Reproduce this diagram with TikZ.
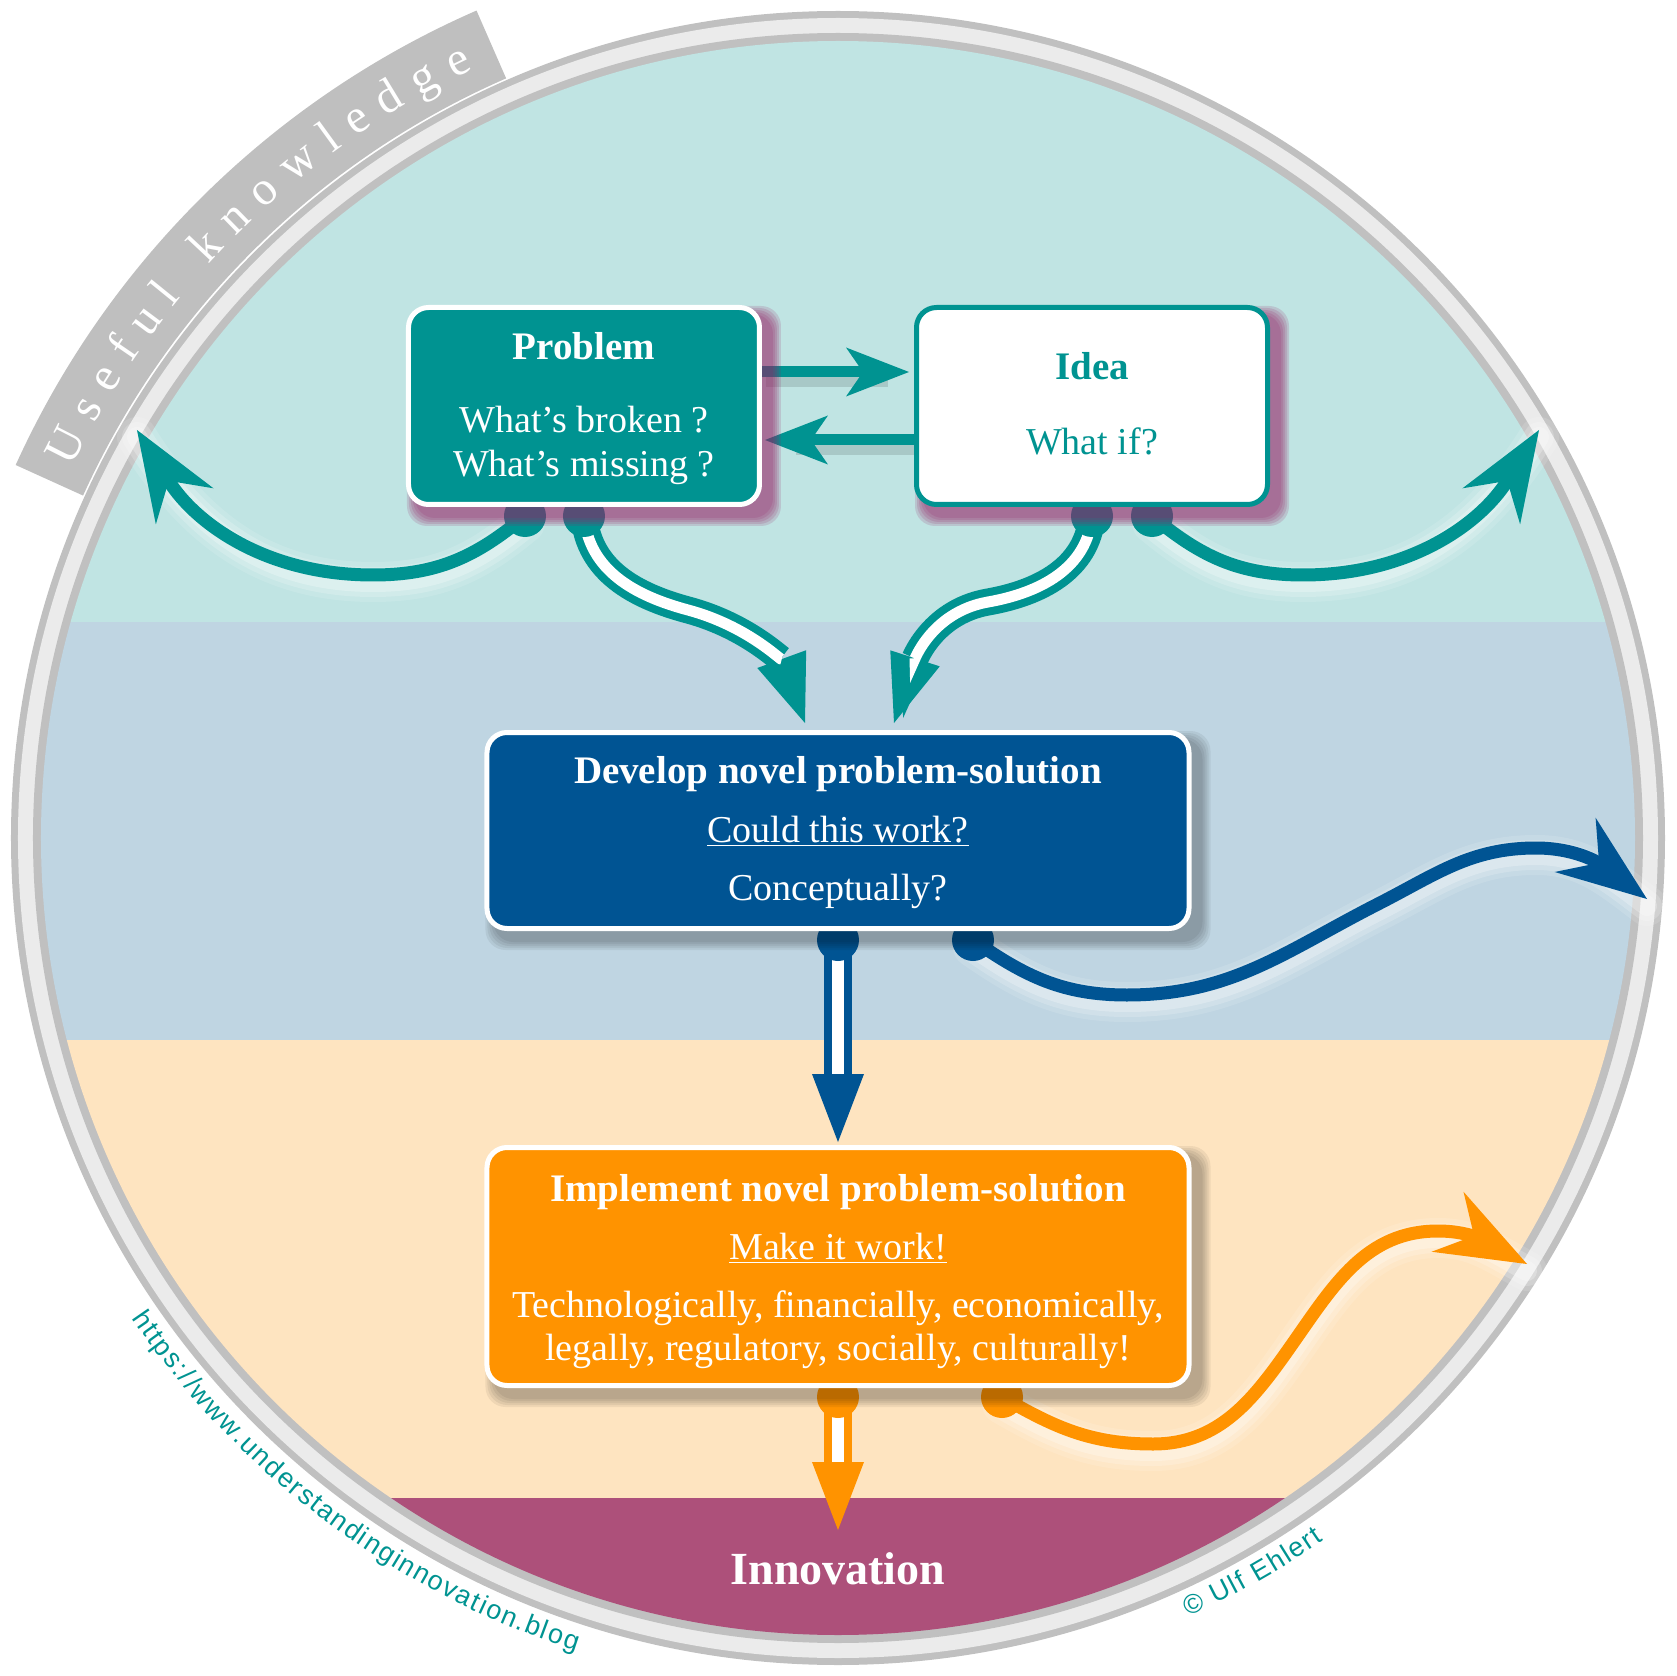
\documentclass[tikz,border=0pt]{standalone}
\usepackage{fontspec}
\setmainfont{Liberation Serif}
\setsansfont{Liberation Sans}
\usetikzlibrary{arrows.meta,decorations.text,calc}
\definecolor{cTeal}{RGB}{0,147,145}
\definecolor{cBlue}{RGB}{0,84,147}
\definecolor{cOrange}{RGB}{255,147,0}
\definecolor{cPurple}{RGB}{173,80,122}
\definecolor{cBandTeal}{RGB}{192,228,227}
\definecolor{cBandBlue}{RGB}{191,213,226}
\definecolor{cBandOrange}{RGB}{254,228,192}
\definecolor{cRingDark}{RGB}{192,192,192}
\definecolor{cRingLight}{RGB}{235,235,235}
\definecolor{cBanner}{RGB}{191,191,191}
\definecolor{cMagShadow}{RGB}{150,30,100}
\pgfdeclarelayer{bglayer}
\pgfdeclarelayer{arrowlayer}
\pgfdeclarelayer{shadowlayer}
\pgfsetlayers{bglayer,arrowlayer,shadowlayer,main}

\newcommand\softshadow[3]{%
  \foreach \ee in {9,7,5,3,1}{%
    \fill[#2,opacity=#3,rounded corners=10pt] ($(#1.south west)+(10-\ee,-10-\ee)$) rectangle ($(#1.north east)+(10+\ee,-10+\ee)$);}}
\newcommand\glowpath[1]{%
  \foreach \gw/\go in {20/0.12,15/0.18,10/0.25}{%
    \draw[white,opacity=\go,line width=\gw pt,line cap=round,transform canvas={yshift=-3.5pt}] #1;}}

\tikzset{
  boxbase/.style={rectangle, rounded corners=10pt, line width=2.5pt, inner sep=0pt},
  probbox/.style={boxbase, fill=cTeal, draw=white, minimum width=175.5pt, minimum height=98.5pt},
  ideabox/.style={boxbase, fill=white, draw=cTeal, minimum width=175.5pt, minimum height=98.5pt},
  devbox/.style={boxbase, fill=cBlue, draw=white, minimum width=351pt, minimum height=98pt},
  implbox/.style={boxbase, fill=cOrange, draw=white, minimum width=351pt, minimum height=119pt},
  txt/.style={font=\fontsize{19}{22}\selectfont, inner sep=0pt, anchor=base, text=white},
  ttl/.style={txt, font=\fontsize{19.5}{22}\selectfont\bfseries},
  sarrow/.style={line width=6.5pt, -{Stealth[length=45pt,width=34pt,inset=15pt,line width=0pt]}},
  harrow/.style={line width=5.5pt, -{Stealth[length=31.5pt,width=24.5pt,inset=8.5pt,line width=0pt]}},
  darrow/.style={line width=13.5pt, -{Triangle[length=34pt,width=26pt,line width=0pt]}},
  dinner/.style={white, line width=5.5pt, shorten >=34pt},
}

\begin{document}
\begin{tikzpicture}[x=0.5pt,y=0.5pt]
\useasboundingbox (-838,-838) rectangle (838,838);

% ---------- background, ring, bands ----------
\begin{pgfonlayer}{bglayer}
  \fill[cBanner] (113.6:829) arc[start angle=113.6,end angle=155.6,radius=829]
     -- (155.6:903) arc[start angle=155.6,end angle=113.6,radius=903] -- cycle;
  \fill[cRingDark] (0,0) circle[radius=827];
  \fill[cRingLight] (0,0) circle[radius=820];
  \fill[cRingDark] (0,0) circle[radius=805];
  \begin{scope}
    \clip (0,0) circle[radius=797];
    \fill[cBandTeal] (-800,216) rectangle (800,800);
    \fill[cBandBlue] (-800,-202) rectangle (800,216);
    \fill[cBandOrange] (-800,-660) rectangle (800,-202);
    \fill[cPurple] (-800,-800) rectangle (800,-660);
  \end{scope}
\end{pgfonlayer}

% ---------- boxes ----------
\node[probbox] (P) at (-254,432) {};
\node[ideabox] (I) at (254,432) {};
\node[devbox] (D) at (0,7.5) {};
\node[implbox] (M) at (0,-428.5) {};

\begin{pgfonlayer}{shadowlayer}
  \softshadow{P}{cMagShadow}{0.16}
  \softshadow{I}{cMagShadow}{0.16}
  \softshadow{D}{black}{0.06}
  \softshadow{M}{black}{0.06}
\end{pgfonlayer}

% ---------- texts ----------
\node[ttl] (Pt) at (-254,478) {Problem};
\node[txt] (Pa) at (-254,405) {What's broken ?};
\node[txt] (Pb) at (-254,361) {What's missing ?};
\node[ttl,text=cTeal] (It) at (254,458) {Idea};
\node[txt,text=cTeal] (Ia) at (254,383) {What if?};
\node[ttl] (Dt) at (0,55) {Develop novel problem-solution};
\node[txt] (Da) at (0,-4) {\underline{Could this work?}};
\node[txt] (Db) at (0,-62) {Conceptually?};
\node[ttl] (Mt) at (0,-363) {Implement novel problem-solution};
\node[txt] (Ma) at (0,-421) {\underline{Make it work!}};
\node[txt] (Mb) at (0,-479) {Technologically, financially, economically,};
\node[txt] (Mc) at (0,-522) {legally, regulatory, socially, culturally!};
\node[txt,font=\fontsize{23}{27}\selectfont\bfseries] (Inn) at (0,-746) {Innovation};

% ---------- connector end points ----------
\coordinate (PL) at ($(P.south)+(-59,-9)$);
\coordinate (PLlow) at (-465,263);
\coordinate (PLend) at (-701,408);
\coordinate (PR) at ($(I.south)+(60,-9)$);
\coordinate (PRlow) at (465,263);
\coordinate (PRend) at (701,408);
\coordinate (PD) at ($(P.south)+(0,-9)$);
\coordinate (PDmid) at (-150,228);
\coordinate (Dl) at ($(D.north)+(-33,7)$);
\coordinate (ID) at ($(I.south)+(0,-9)$);
\coordinate (IDmid) at (150,236);
\coordinate (Dr) at ($(D.north)+(56,7)$);
\coordinate (DD) at ($(D.south)+(0,-9)$);
\coordinate (Mtop) at ($(M.north)+(0,3)$);
\coordinate (DR) at ($(D.south)+(135,-9)$);
\coordinate (DR1) at (289,-157);
\coordinate (DR2) at (540,-66);
\coordinate (DR3) at (698,-10);
\coordinate (DRend) at (809,-61);
\coordinate (MD) at ($(M.south)+(0,-9)$);
\coordinate (InnTop) at (0,-692);
\coordinate (MR) at ($(M.south)+(164,-9)$);
\coordinate (MR1) at (315,-606);
\coordinate (MR2) at (455,-505);
\coordinate (MR3) at (600,-393);
\coordinate (MRend) at (689,-426);

\def\pPL{(PL) to[out=-140,in=0] (PLlow) to[out=180,in=-58] (PLend)}
\def\pPR{(PR) to[out=-40,in=180] (PRlow) to[out=0,in=-122] (PRend)}
\def\pDR{(DR) to[out=-35,in=180] (DR1) to[out=0,in=207] (DR2) to[out=27,in=180] (DR3) to[out=0,in=143] (DRend)}
\def\pMR{(MR) to[out=-30,in=180] (MR1) to[out=0,in=-125] (MR2) to[out=55,in=180] (MR3) to[out=0,in=152] (MRend)}
\def\pPD{(PD) to[out=-85,in=165] (PDmid) to[out=-15,in=110] (Dl)}
\def\pID{(ID) to[out=-95,in=10] (IDmid) to[out=190,in=72] (Dr)}

% ---------- connectors ----------
\begin{pgfonlayer}{arrowlayer}
  \glowpath{\pPL}
  \glowpath{\pPR}
  \glowpath{\pDR}
  \glowpath{\pMR}
  \draw[black,opacity=0.12,line width=7pt,transform canvas={xshift=2pt,yshift=-4pt}]
     ($(P.east)+(0,34)$) -- ($(I.west)+(-30,34)$);
  \draw[black,opacity=0.12,line width=7pt,transform canvas={xshift=2pt,yshift=-4pt}]
     ($(I.west)+(0,-34)$) -- ($(P.east)+(30,-34)$);
  \draw[harrow,cTeal] ($(P.east)+(0,34)$) -- ($(I.west)+(-5,34)$);
  \draw[harrow,cTeal] ($(I.west)+(0,-34)$) -- ($(P.east)+(3,-34)$);

  \draw[sarrow,cTeal] \pPL;
  \draw[sarrow,cTeal] \pPR;
  \draw[sarrow,cBlue] \pDR;
  \draw[sarrow,cOrange] \pMR;

  \draw[darrow,cTeal] \pPD;
  \draw[dinner] \pPD;
  \draw[darrow,cTeal] \pID;
  \draw[dinner] \pID;
  \draw[darrow,cBlue] (DD) -- (Mtop);
  \draw[dinner] (DD) -- (Mtop);
  \draw[darrow,cOrange] (MD) -- (InnTop);
  \draw[dinner] (MD) -- (InnTop);

  \fill[cTeal] (PL) circle[radius=21];
  \fill[cTeal] (PR) circle[radius=21];
  \fill[cTeal] (PD) circle[radius=21];
  \fill[cTeal] (ID) circle[radius=21];
  \fill[cBlue] (DD) circle[radius=21];
  \fill[cBlue] (DR) circle[radius=21];
  \fill[cOrange] (MD) circle[radius=21];
  \fill[cOrange] (MR) circle[radius=21];
\end{pgfonlayer}

% ---------- texts along the circle ----------
\path[decorate,decoration={text along path,
   text={|\fontsize{24}{28}\selectfont|Useful knowledge},
   text color=white, text align=fit to path}]
   (154.2:851) arc[start angle=154.2,end angle=115.4,radius=851];
\path[decorate,decoration={text along path,
   text={|\sffamily\fontsize{13.5}{16}\selectfont|https://www.understandinginnovation.blog},
   text color=cTeal, text align=fit to path}]
   (214.2:854) arc[start angle=214.2,end angle=252.1,radius=854];
\path[decorate,decoration={text along path,
   text={|\sffamily\fontsize{13.5}{16}\selectfont|© Ulf Ehlert},
   text color=cTeal, text align=fit to path}]
   (294.2:854) arc[start angle=294.2,end angle=304.65,radius=854];
\end{tikzpicture}
\end{document}
